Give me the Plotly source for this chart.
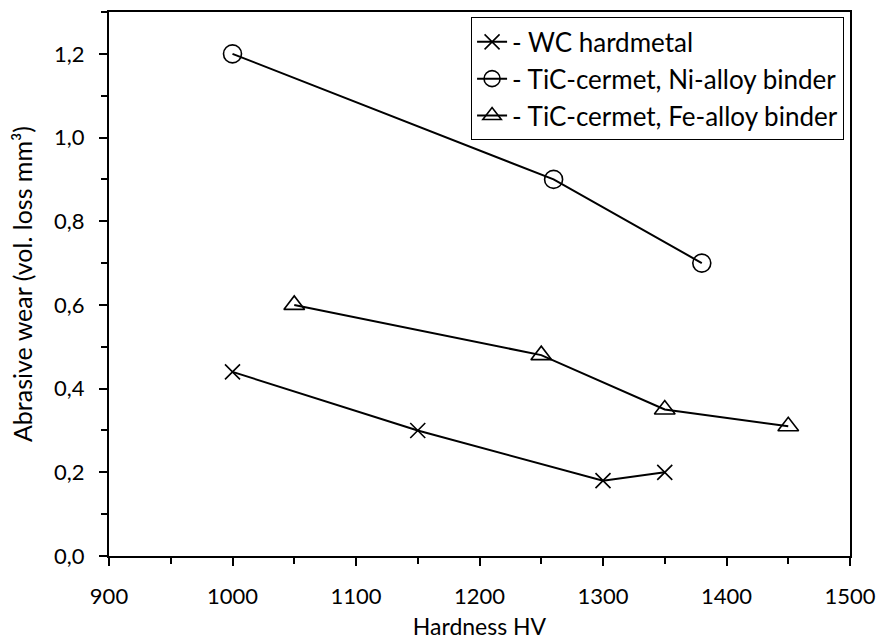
import plotly.graph_objects as go

# Abrasive wear vs hardness for three material groups
wc_hv = [1000, 1150, 1300, 1350]
wc_wear = [0.44, 0.30, 0.18, 0.20]

ni_hv = [1000, 1260, 1380]
ni_wear = [1.20, 0.90, 0.70]

fe_hv = [1050, 1250, 1350, 1450]
fe_wear = [0.60, 0.48, 0.35, 0.31]

x_ticks = [900, 1000, 1100, 1200, 1300, 1400, 1500]
y_ticks = [0.0, 0.2, 0.4, 0.6, 0.8, 1.0, 1.2]
y_tick_text = ["0,0", "0,2", "0,4", "0,6", "0,8", "1,0", "1,2"]

FONT = "Lato, 'Open Sans', sans-serif"
line = dict(color="black", width=2)

fig = go.Figure()
fig.add_trace(go.Scatter(
    x=wc_hv, y=wc_wear, mode="lines+markers", name="- WC hardmetal",
    line=line,
    marker=dict(symbol="x-thin", size=15, color="black",
                line=dict(color="black", width=1.6)),
))
fig.add_trace(go.Scatter(
    x=ni_hv, y=ni_wear, mode="lines+markers", name="- TiC-cermet, Ni-alloy binder",
    line=line,
    marker=dict(symbol="circle-open", size=18, color="black",
                line=dict(color="black", width=1.6)),
))
fig.add_trace(go.Scatter(
    x=fe_hv, y=fe_wear, mode="lines+markers", name="- TiC-cermet, Fe-alloy binder",
    line=line,
    marker=dict(symbol="triangle-up-open", size=18, color="black",
                line=dict(color="black", width=1.6)),
))

fig.update_layout(
    width=878, height=642,
    margin=dict(l=109, r=28, t=12, b=86, autoexpand=False),
    paper_bgcolor="white", plot_bgcolor="white",
    font=dict(family=FONT, size=22, color="black"),
    legend=dict(
        x=0.992, y=0.99, xanchor="right", yanchor="top",
        bordercolor="black", borderwidth=1, bgcolor="white",
        font=dict(family=FONT, size=26, color="black"),
        tracegroupgap=0, itemwidth=30,
    ),
    showlegend=True,
)

fig.update_xaxes(
    range=[900, 1500], tickvals=x_ticks, automargin=False,
    showgrid=False, zeroline=False,
    showline=True, linecolor="black", linewidth=2, mirror=True,
    ticks="outside", ticklen=8, tickwidth=2, tickcolor="black",
    minor=dict(ticks="outside", ticklen=6, tickwidth=2, tickcolor="black", dtick=50),
    ticklabelstandoff=12,
    title=dict(text="Hardness HV", standoff=10, font=dict(size=23)),
    tickfont=dict(size=22),
)
fig.update_yaxes(
    range=[0, 1.3], tickvals=y_ticks, ticktext=y_tick_text, automargin=False,
    showgrid=False, zeroline=False,
    showline=True, linecolor="black", linewidth=2, mirror=True,
    ticks="outside", ticklen=8, tickwidth=2, tickcolor="black",
    minor=dict(ticks="outside", ticklen=6, tickwidth=2, tickcolor="black", dtick=0.1),
    ticklabelstandoff=10,
    title=dict(text="Abrasive wear (vol. loss mm³)", standoff=14, font=dict(size=25)),
    tickfont=dict(size=22),
)

fig.write_html("out.html")
